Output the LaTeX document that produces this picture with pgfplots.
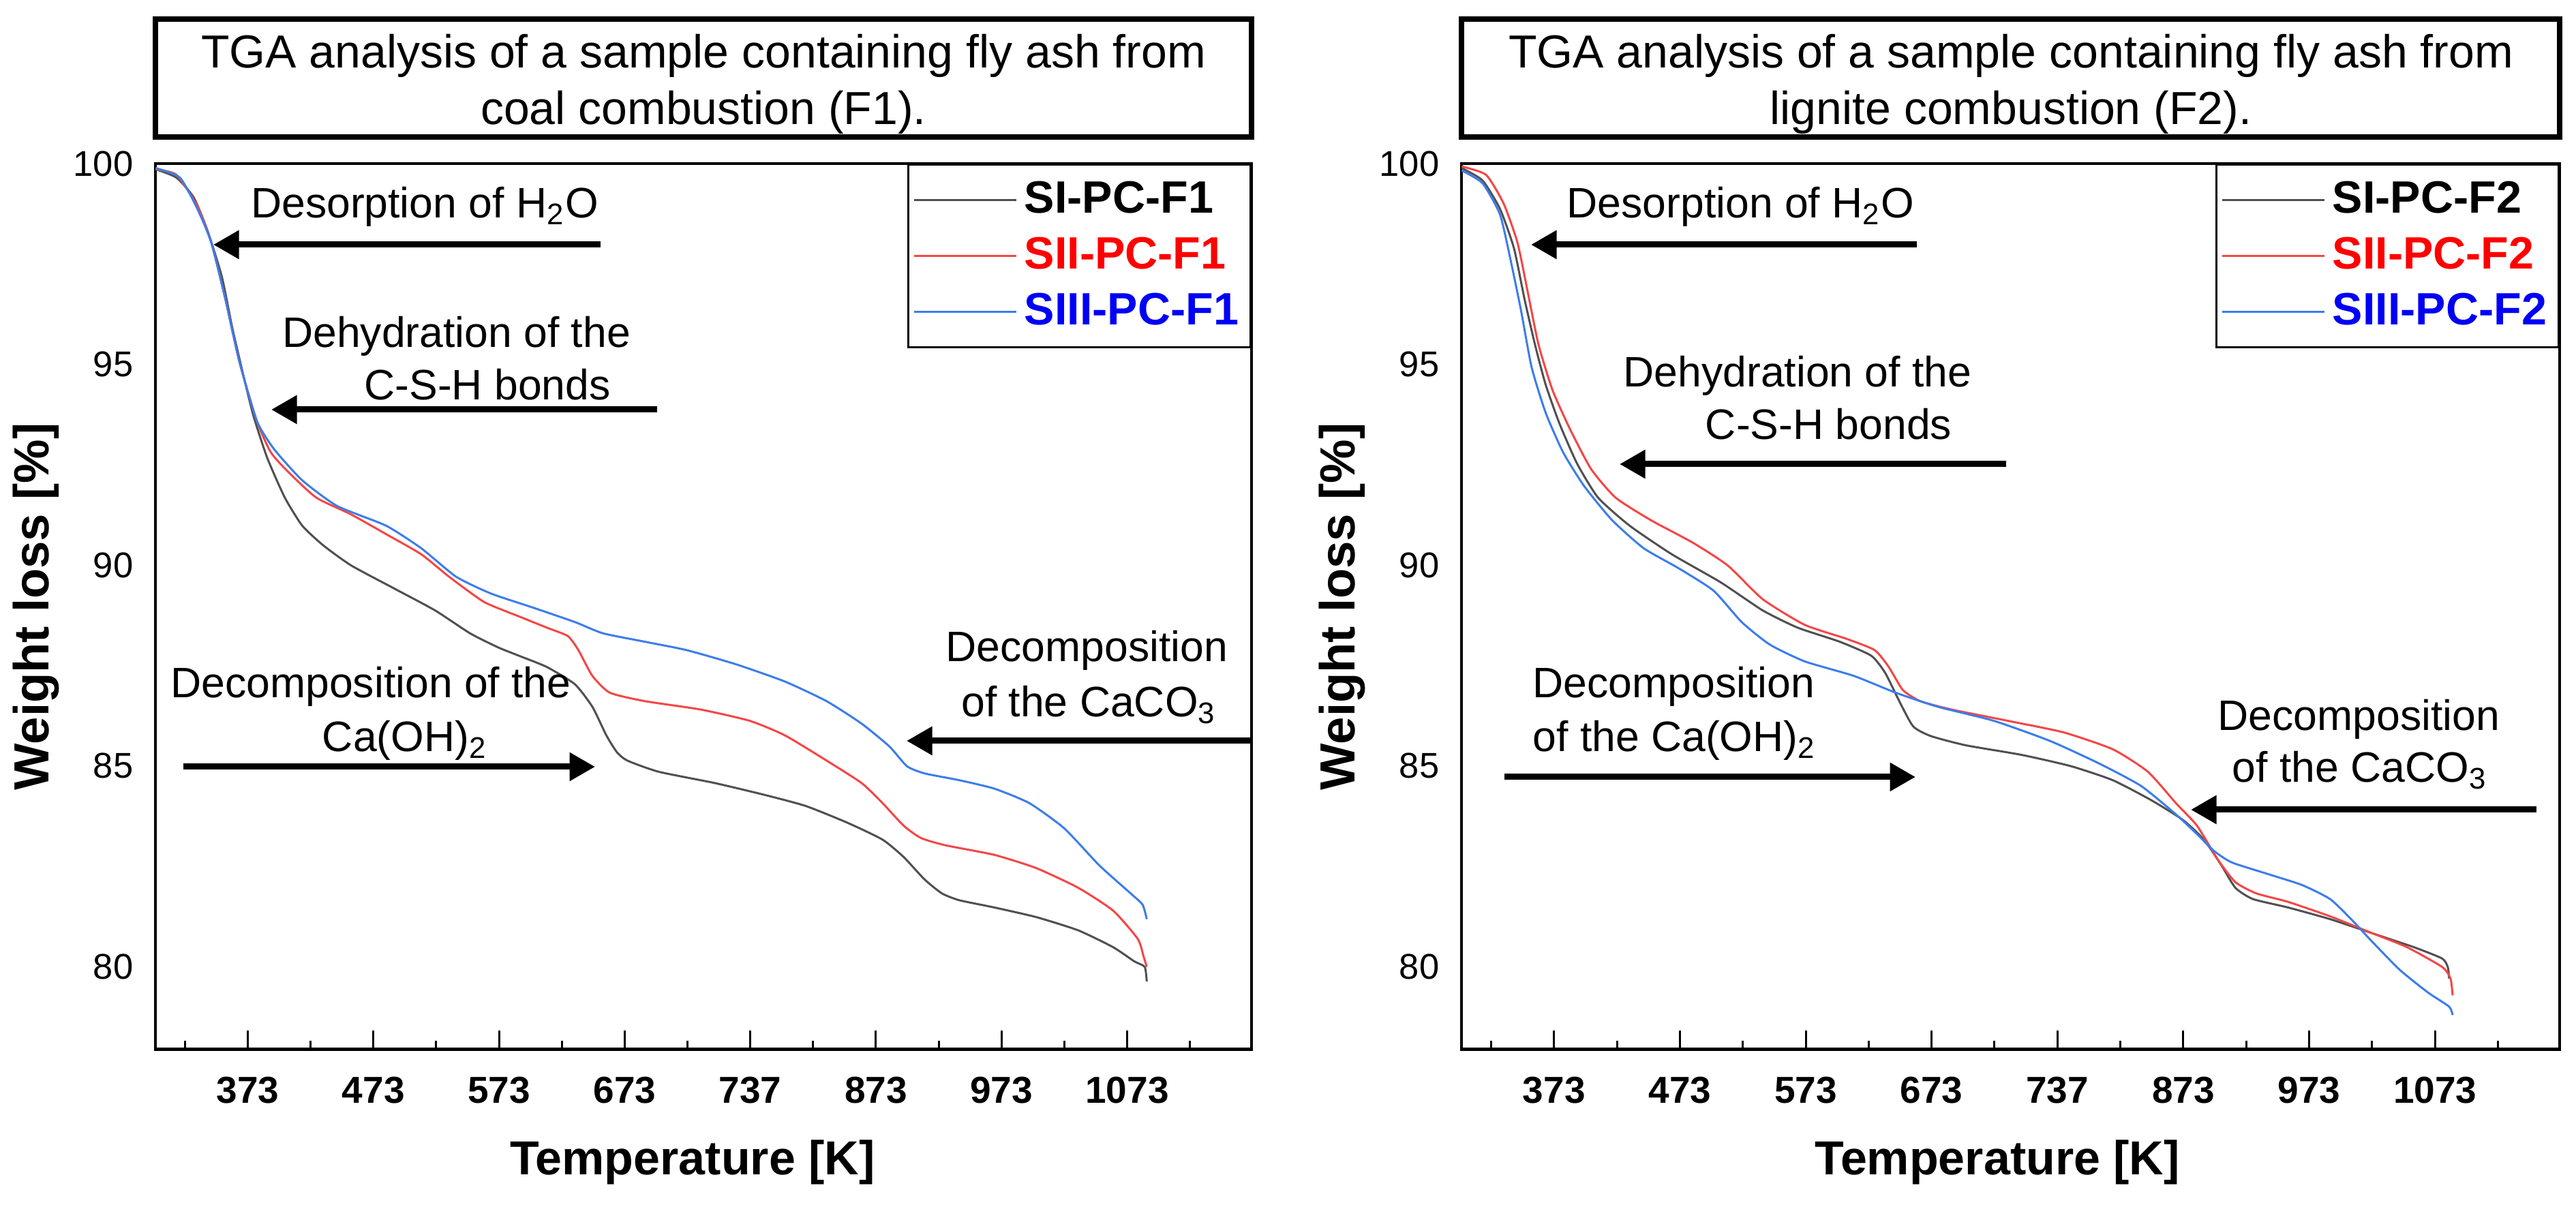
\documentclass[border=0pt]{standalone}
\usepackage{fontspec}
\setmainfont{Liberation Sans}
\usepackage{pgfplots}
\pgfplotsset{compat=1.18}
\usetikzlibrary{arrows.meta}

\definecolor{cblack}{RGB}{80,80,80}
\definecolor{cred}{RGB}{245,70,70}
\definecolor{cblue}{RGB}{60,125,235}
\definecolor{tred}{RGB}{255,0,0}
\definecolor{tblue}{RGB}{0,0,245}

\pgfplotsset{
  tga/.style={
    scale only axis,
    width=321.6pt, height=260pt,
    xmin=299.5, xmax=1172,
    ymin=77.93, ymax=100,
    axis line style={line width=0.8pt, black},
    xtick={373,473,573,673,773,873,973,1073},
    xticklabels={373,473,573,673,737,873,973,1073},
    minor xtick={323,423,523,623,723,823,923,1023,1123},
    ytick={80,85,90,95,100},
    xtick pos=bottom, ytick pos=left,
    tick align=inside,
    major tick length=5.6pt, minor tick length=2.6pt,
    x tick style={line width=0.6pt, black},
    y tick style={draw=none},
    /pgf/number format/assume math mode=true,
    xticklabel style={font=\fontsize{11}{13}\selectfont\bfseries, yshift=-4.5pt},
    yticklabel style={font=\fontsize{10.5}{12}\selectfont, xshift=-3pt},
    xlabel={Temperature [K]},
    ylabel={Weight loss [\%]},
    xlabel style={font=\fontsize{14}{16}\selectfont\bfseries, at={(axis description cs:0.49,-0.127)}, anchor=center},
    ylabel style={font=\fontsize{14.5}{16}\selectfont\bfseries, at={(axis description cs:-0.109,0.5)}, anchor=center},
    legend style={at={(rel axis cs:1,1)}, anchor=north east, draw=black, line width=0.6pt,
      font=\fontsize{13.3}{15}\selectfont\bfseries, row sep=1.6pt,
      inner xsep=1.5pt, inner ysep=3pt, cells={anchor=west}},
    legend image code/.code={\draw[#1, line width=0.6pt] (0pt,0pt) -- (30pt,0pt);},
    every axis plot/.append style={line width=0.6pt, smooth, tension=0.35},
  }
}
\tikzset{
  ann/.style={font=\fontsize{12.5}{14}\selectfont, inner sep=0pt, text height=9pt, text depth=0pt, anchor=center},
  arr/.style={line width=1.8pt, -{Triangle[length=7.5pt,width=8pt]}},
  ttl/.style={font=\fontsize{13.6}{15}\selectfont, inner sep=0pt, text height=9.8pt, text depth=0pt, anchor=center},
}

\begin{document}
\begin{tikzpicture}
\useasboundingbox (0,0) rectangle (755.8pt,353.6pt);

% ---------------- Left panel ----------------
\begin{axis}[tga, at={(45.6pt,45.6pt)}, anchor=south west]
\addplot[cblack] table {
299.5 99.86
316.2 99.65
330.1 99.15
341.2 98.31
352.4 97.18
360.7 95.91
369.1 94.78
377.4 93.73
388.5 92.67
402.5 91.68
416.4 90.98
433.1 90.49
455.3 89.99
488.7 89.43
522.1 88.87
549.9 88.30
572.2 87.95
588.9 87.74
611.1 87.46
633.4 87.03
647.3 86.47
658.4 85.76
666.8 85.34
675.1 85.13
700.2 84.85
744.7 84.57
783.7 84.28
817.0 84.00
850.4 83.58
878.3 83.16
895.0 82.73
911.7 82.17
925.6 81.82
939.5 81.65
967.3 81.47
1000.7 81.23
1034.1 80.90
1061.9 80.48
1078.6 80.13
1087.0 79.99
1088.6 79.63
};
\addlegendentry{\textcolor{black}{SI-PC-F1}}
\addplot[cred] table {
299.5 99.86
316.2 99.72
332.9 98.94
344.0 98.03
355.2 96.62
366.3 95.07
380.2 93.59
391.3 92.81
405.2 92.32
427.5 91.68
455.3 91.26
483.1 90.77
511.0 90.27
533.2 89.71
561.1 89.08
588.9 88.72
611.1 88.44
627.8 88.23
636.2 87.88
647.3 87.24
661.2 86.82
689.0 86.61
733.6 86.40
772.5 86.12
800.4 85.76
833.7 85.13
861.6 84.57
878.3 84.07
895.0 83.51
908.9 83.20
928.3 83.02
967.3 82.78
1000.7 82.45
1034.1 81.96
1061.9 81.39
1081.4 80.69
1085.9 80.27
1088.6 79.99
};
\addlegendentry{\textcolor{tred}{SII-PC-F1}}
\addplot[cblue] table {
299.5 99.89
319.0 99.65
332.9 98.87
344.0 98.03
355.2 96.62
366.3 95.07
380.2 93.59
394.1 92.88
416.4 92.11
444.2 91.47
483.1 90.98
511.0 90.42
538.8 89.71
566.6 89.29
600.0 88.94
633.4 88.58
655.7 88.30
689.0 88.09
722.4 87.88
761.4 87.53
800.4 87.10
833.7 86.61
861.6 86.05
883.8 85.48
897.7 84.99
911.7 84.81
939.5 84.64
967.3 84.43
995.1 84.07
1023.0 83.44
1050.8 82.52
1075.8 81.82
1085.3 81.54
1088.6 81.18
};
\addlegendentry{\textcolor{tblue}{SIII-PC-F1}}
\draw[line width=1.4pt, black] (rel axis cs:0,0) -- (rel axis cs:1,0);
\end{axis}

% ---------------- Right panel ----------------
\begin{axis}[tga, width=322.2pt, at={(428.8pt,45.6pt)}, anchor=south west,
  xlabel style={at={(axis description cs:0.488,-0.127)}}]
\addplot[cblack] table {
299.5 99.89
316.2 99.58
330.1 98.87
341.2 97.89
349.6 96.62
357.9 95.49
366.3 94.50
377.4 93.52
391.3 92.53
408.0 91.68
433.1 90.98
466.5 90.27
505.4 89.57
538.8 88.87
566.6 88.44
600.0 88.09
625.1 87.74
636.2 87.31
647.3 86.61
658.4 85.98
672.4 85.74
700.2 85.51
744.7 85.27
783.7 84.99
817.0 84.64
847.7 84.14
872.7 83.65
889.4 83.16
903.3 82.52
914.4 81.96
928.3 81.68
956.2 81.47
989.6 81.18
1023.0 80.83
1056.3 80.48
1078.6 80.20
1083.1 79.99
1084.2 79.70
};
\addlegendentry{\textcolor{black}{SI-PC-F2}}
\addplot[cred] table {
299.5 99.93
319.0 99.72
332.9 99.01
344.0 98.03
352.4 96.76
360.7 95.49
371.8 94.36
385.8 93.38
402.5 92.39
421.9 91.68
449.8 91.12
483.1 90.56
511.0 89.99
538.8 89.15
572.2 88.51
605.6 88.16
627.8 87.88
639.0 87.46
650.1 86.89
664.0 86.61
689.0 86.40
733.6 86.12
778.1 85.83
817.0 85.41
844.9 84.85
867.1 84.07
883.8 83.51
900.5 82.66
914.4 82.10
931.1 81.82
956.2 81.61
989.6 81.25
1023.0 80.83
1050.8 80.48
1078.6 79.99
1085.3 79.70
1087.0 79.28
};
\addlegendentry{\textcolor{tred}{SII-PC-F2}}
\addplot[cblue] table {
299.5 99.83
316.2 99.51
330.1 98.73
338.5 97.60
346.8 96.34
355.2 94.93
366.3 93.80
380.2 92.81
396.9 91.97
419.1 91.12
444.2 90.42
472.0 89.92
499.8 89.36
522.1 88.58
544.4 88.02
572.2 87.60
611.1 87.24
644.5 86.82
677.9 86.47
722.4 86.12
767.0 85.62
805.9 85.06
839.3 84.50
867.1 83.79
883.8 83.30
897.7 82.87
911.7 82.59
939.5 82.31
967.3 82.03
989.6 81.68
1006.3 81.18
1023.0 80.62
1045.2 79.91
1067.5 79.35
1084.2 79.00
1087.0 78.79
};
\addlegendentry{\textcolor{tblue}{SIII-PC-F2}}
\draw[line width=1.4pt, black] (rel axis cs:0,0) -- (rel axis cs:1,0);
\end{axis}

% ---------------- Title boxes ----------------
\draw[line width=1.6pt] (45.6pt,313.4pt) rectangle (367.2pt,348pt);
\node[ttl] at (206.4pt,338.6pt) {TGA analysis of a sample containing fly ash from};
\node[ttl] at (206.4pt,322pt) {coal combustion (F1).};
\draw[line width=1.6pt] (428.8pt,313.4pt) rectangle (751pt,348pt);
\node[ttl] at (590pt,338.6pt) {TGA analysis of a sample containing fly ash from};
\node[ttl] at (590pt,322pt) {lignite combustion (F2).};

% ---------------- Left annotations ----------------
\node[ann] at (124.6pt,294.2pt) {Desorption of H\textsubscript{2}O};
\draw[arr] (176.2pt,281.8pt) -- (62.6pt,281.8pt);
\node[ann] at (133.9pt,256.2pt) {Dehydration of the};
\node[ann] at (143pt,240.8pt) {C-S-H bonds};
\draw[arr] (192.8pt,233.4pt) -- (79.6pt,233.4pt);
\node[ann] at (108.8pt,153.4pt) {Decomposition of the};
\node[ann] at (118.8pt,137.6pt) {Ca(OH)\textsubscript{2}};
\draw[arr] (53.8pt,128.6pt) -- (174.6pt,128.6pt);
\node[ann] at (318.9pt,164pt) {Decomposition};
\node[ann] at (319.5pt,147.8pt) {of the CaCO\textsubscript{3}};
\draw[arr] (367.2pt,136.2pt) -- (266pt,136.2pt);

% ---------------- Right annotations ----------------
\node[ann] at (510.7pt,294.2pt) {Desorption of H\textsubscript{2}O};
\draw[arr] (562.4pt,281.8pt) -- (449.2pt,281.8pt);
\node[ann] at (527.4pt,244.6pt) {Dehydration of the};
\node[ann] at (536.5pt,229.2pt) {C-S-H bonds};
\draw[arr] (588.6pt,217.4pt) -- (475.2pt,217.4pt);
\node[ann] at (491.1pt,153.4pt) {Decomposition};
\node[ann] at (491.3pt,137.6pt) {of the Ca(OH)\textsubscript{2}};
\draw[arr] (441.4pt,125.6pt) -- (562pt,125.6pt);
\node[ann] at (692.1pt,143.8pt) {Decomposition};
\node[ann] at (692.4pt,128.6pt) {of the CaCO\textsubscript{3}};
\draw[arr] (744.2pt,116pt) -- (642.8pt,116pt);
\end{tikzpicture}
\end{document}
